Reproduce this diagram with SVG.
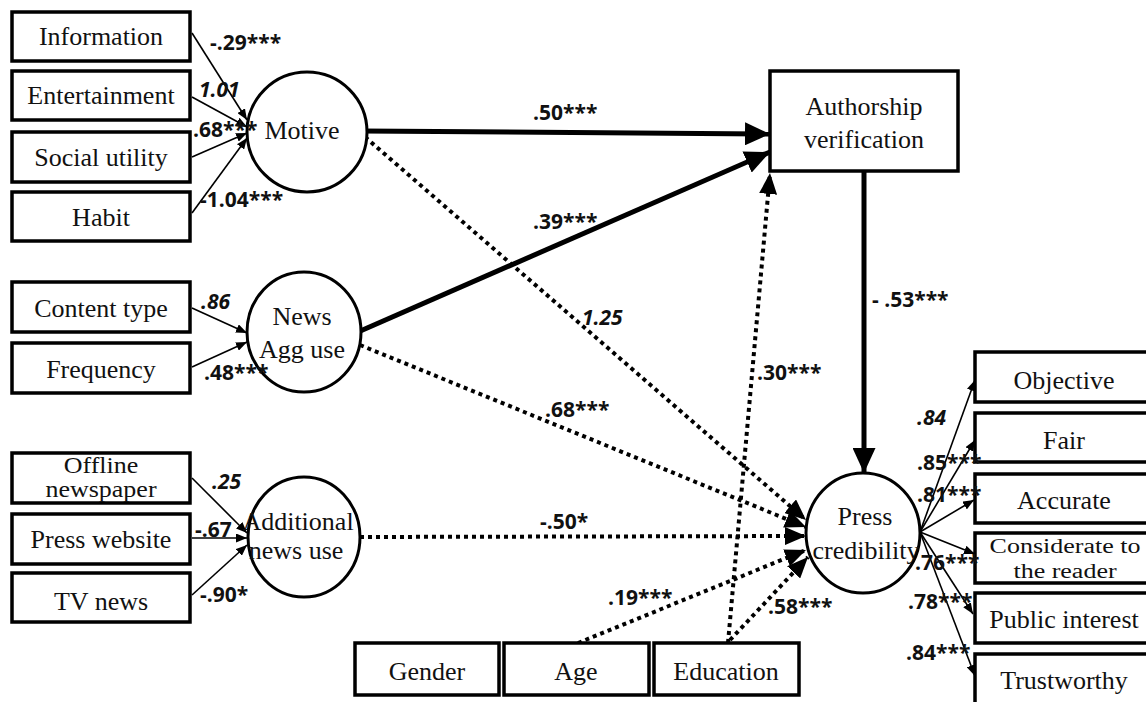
<svg xmlns="http://www.w3.org/2000/svg" width="1146" height="702" viewBox="0 0 1146 702">
<defs>
<marker id="thin" markerUnits="userSpaceOnUse" markerWidth="11" markerHeight="9" refX="11" refY="4.5" orient="auto"><path d="M0,0 L11,4.5 L0,9 z" fill="#000"/></marker>
<marker id="big" markerUnits="userSpaceOnUse" markerWidth="25" markerHeight="23" refX="25" refY="11.5" orient="auto"><path d="M0,0 L25,11.5 L0,23 z" fill="#000"/></marker>
<marker id="dot" markerUnits="userSpaceOnUse" markerWidth="21" markerHeight="18" refX="21" refY="9" orient="auto"><path d="M0,0 L21,9 L0,18 z" fill="#000"/></marker>
</defs>
<style>
.box{fill:#fff;stroke:#000;stroke-width:3.5}
.circ{fill:#fff;stroke:#000;stroke-width:3}
.t{font-family:"Liberation Serif",serif;font-size:26px;fill:#111;text-anchor:middle}
.n{font-family:"Open Sans","DejaVu Sans",sans-serif;font-size:21px;font-weight:bold;fill:#111}
.i{font-style:italic}
.thin{stroke:#000;stroke-width:1.6;fill:none;marker-end:url(#thin)}
.thick{stroke:#000;stroke-width:5;fill:none;marker-end:url(#big)}
.dotl{stroke:#000;stroke-width:4;stroke-dasharray:4 4;fill:none;marker-end:url(#dot)}
</style>
<rect width="1146" height="702" fill="#fff"/>

<g id="connectors">
<line class="thin" x1="192" y1="33" x2="247" y2="120"/>
<line class="thin" x1="192" y1="97" x2="247" y2="127"/>
<line class="thin" x1="192" y1="157" x2="247" y2="133"/>
<line class="thin" x1="192" y1="213" x2="247" y2="138"/>
<line class="thin" x1="192" y1="308" x2="247" y2="333"/>
<line class="thin" x1="192" y1="367" x2="247" y2="342"/>
<line class="thin" x1="192" y1="478" x2="247" y2="533"/>
<line class="thin" x1="192" y1="538" x2="247" y2="538"/>
<line class="thin" x1="192" y1="595" x2="247" y2="545"/>
<line class="thin" x1="920" y1="532" x2="975" y2="380"/>
<line class="thin" x1="920" y1="532" x2="975" y2="440"/>
<line class="thin" x1="920" y1="532" x2="974" y2="500"/>
<line class="thin" x1="920" y1="532" x2="975" y2="554"/>
<line class="thin" x1="920" y1="532" x2="973" y2="614"/>
<line class="thin" x1="920" y1="532" x2="975" y2="676"/>
<line class="thick" x1="362" y1="131" x2="770" y2="134"/>
<line class="thick" x1="358" y1="332" x2="770" y2="152"/>
<line class="thick" x1="864" y1="171" x2="864" y2="473"/>
<line class="dotl" x1="365" y1="137" x2="806" y2="520"/>
<line class="dotl" x1="360" y1="345" x2="806" y2="527"/>
<line class="dotl" x1="360" y1="537" x2="806" y2="536"/>
<line class="dotl" x1="578" y1="643" x2="806" y2="550"/>
<line class="dotl" x1="730" y1="640" x2="808" y2="557"/>
<line class="dotl" x1="728" y1="643" x2="770" y2="173"/>
</g>

<g id="n-information"><rect class="box" x="12" y="12" width="178" height="49"/><text class="t" x="101" y="45">Information</text></g>
<g id="n-entertainment"><rect class="box" x="12" y="71" width="178" height="49"/><text class="t" x="101" y="104">Entertainment</text></g>
<g id="n-social"><rect class="box" x="12" y="132" width="178" height="50"/><text class="t" x="101" y="166">Social utility</text></g>
<g id="n-habit"><rect class="box" x="12" y="192" width="178" height="49"/><text class="t" x="101" y="226">Habit</text></g>
<g id="n-content"><rect class="box" x="12" y="282" width="178" height="50"/><text class="t" x="101" y="317">Content type</text></g>
<g id="n-frequency"><rect class="box" x="12" y="343" width="178" height="50"/><text class="t" x="101" y="378">Frequency</text></g>
<g id="n-offline"><rect class="box" x="12" y="453" width="178" height="50"/><g transform="translate(101,478) scale(1,0.88)"><text class="t" x="0" y="-6">Offline</text><text class="t" x="0" y="22">newspaper</text></g></g>
<g id="n-pressweb"><rect class="box" x="12" y="514" width="178" height="50"/><text class="t" x="101" y="548">Press website</text></g>
<g id="n-tv"><rect class="box" x="12" y="573" width="178" height="49"/><text class="t" x="101" y="610">TV news</text></g>

<g id="n-motive"><ellipse class="circ" cx="307" cy="132" rx="60" ry="60"/><text class="t" x="302" y="139">Motive</text></g>
<g id="n-newsagg"><ellipse class="circ" cx="304" cy="332" rx="57" ry="60"/><text class="t" x="302" y="325">News</text><text class="t" x="302" y="358">Agg use</text></g>
<g id="n-additional"><ellipse class="circ" cx="304" cy="537" rx="56" ry="60"/><text class="t" x="298" y="530">Additional</text><text class="t" x="296" y="559">news use</text></g>

<g id="n-authorship"><rect class="box" x="770" y="71" width="188" height="100"/><text class="t" x="864" y="115">Authorship</text><text class="t" x="864" y="148">verification</text></g>
<g id="n-press"><ellipse class="circ" cx="863" cy="533" rx="57" ry="60"/><text class="t" x="865" y="525">Press</text><text class="t" x="866" y="559">credibility</text></g>

<g id="n-objective"><rect class="box" x="975" y="352" width="190" height="50"/><text class="t" x="1064" y="389">Objective</text></g>
<g id="n-fair"><rect class="box" x="975" y="413" width="190" height="49"/><text class="t" x="1064" y="449">Fair</text></g>
<g id="n-accurate"><rect class="box" x="975" y="474" width="190" height="49"/><text class="t" x="1064" y="509">Accurate</text></g>
<g id="n-considerate"><rect class="box" x="975" y="533" width="190" height="50"/><g transform="translate(1065,565) scale(1,0.8)"><text class="t" x="0" y="-15">Considerate to</text><text class="t" x="0" y="16">the reader</text></g></g>
<g id="n-public"><rect class="box" x="975" y="593" width="190" height="50"/><text class="t" x="1064" y="628">Public interest</text></g>
<g id="n-trust"><rect class="box" x="975" y="654" width="190" height="60"/><text class="t" x="1064" y="689">Trustworthy</text></g>

<g id="n-gender"><rect class="box" x="355" y="643" width="144" height="52"/><text class="t" x="427" y="680">Gender</text></g>
<g id="n-age"><rect class="box" x="504" y="643" width="145" height="52"/><text class="t" x="576" y="680">Age</text></g>
<g id="n-education"><rect class="box" x="654" y="643" width="145" height="52"/><text class="t" x="726" y="680">Education</text></g>

<g id="labels">
<text class="n" x="210" y="50">-.29***</text>
<text class="n i" x="199" y="97">1.01</text>
<text class="n" x="193" y="137">.68***</text>
<text class="n" x="200" y="207">-1.04***</text>
<text class="n i" x="201" y="309">.86</text>
<text class="n" x="204" y="380">.48***</text>
<text class="n i" x="212" y="489">.25</text>
<text class="n" x="195" y="537">-.67</text>
<text class="n" x="200" y="602">-.90*</text>
<text class="n" x="533" y="120">.50***</text>
<text class="n" x="533" y="229">.39***</text>
<text class="n i" x="582" y="325">1.25</text>
<text class="n" x="545" y="417">.68***</text>
<text class="n" x="540" y="529">-.50*</text>
<text class="n" x="757" y="380">.30***</text>
<text class="n" x="872" y="307">- .53***</text>
<text class="n" x="608" y="605">.19***</text>
<text class="n" x="768" y="614">.58***</text>
<text class="n i" x="917" y="425">.84</text>
<text class="n" x="917" y="470">.85***</text>
<text class="n" x="917" y="502">.81***</text>
<text class="n" x="915" y="570">.76***</text>
<text class="n" x="908" y="609">.78***</text>
<text class="n" x="906" y="660">.84***</text>
</g>
</svg>
